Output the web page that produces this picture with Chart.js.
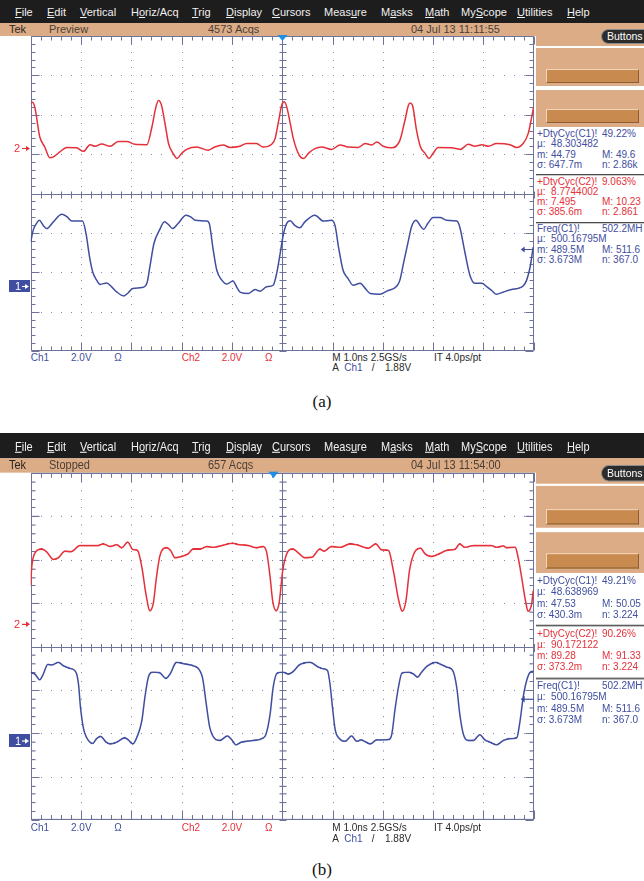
<!DOCTYPE html>
<html>
<head>
<meta charset="utf-8">
<script src="https://cdn.jsdelivr.net/npm/chart.js@4.4.1/dist/chart.umd.min.js"></script>
<style>
html,body{margin:0;padding:0;}
body{width:644px;height:881px;overflow:hidden;background:#fff;position:relative;font-family:"Liberation Sans",Arial,Helvetica,sans-serif;}
.panel{position:absolute;left:0;width:644px;height:380px;transform-origin:0 0;overflow:hidden;}
.menubar{position:absolute;left:0;top:0;width:644px;height:23px;background:#1d1d1d;}
.mi{position:absolute;top:6px;font-size:11px;line-height:13px;color:#f0f0f0;white-space:pre;}
.status{position:absolute;left:0;top:23px;width:644px;height:13px;background:#dcac87;}
.sideTan{position:absolute;left:536px;top:23px;width:108px;height:23px;background:#dcac87;}
.st{position:absolute;top:23px;font-size:11px;line-height:13px;color:#3b3129;white-space:pre;}
.pill{position:absolute;left:601px;top:29px;width:52px;height:15px;border-radius:8px;background:#2c2c2c;border:1px solid #8c8c8c;color:#fff;font-size:10.5px;line-height:13px;padding-left:5px;box-sizing:border-box;}
.box{position:absolute;left:536px;width:108px;background:#dcac87;}
.inner{position:absolute;left:10px;width:93px;height:14px;background:#c98a50;border-top:1px solid #f3d6b8;border-left:1px solid #f3d6b8;border-bottom:1px solid #8f5f33;border-right:1px solid #8f5f33;box-sizing:border-box;}
.tx{position:absolute;font-size:10px;line-height:12px;white-space:pre;}
.sep{position:absolute;left:536px;width:108px;height:1px;background:#4a4a4a;border-bottom:1px solid #c9c9c9;}
.cap{position:absolute;left:0;width:644px;text-align:center;font-family:"Liberation Serif","Times New Roman",serif;font-size:17px;line-height:20px;color:#111;}
canvas{position:absolute;left:0;top:30px;}
</style>
</head>
<body>
<script>
// ---------------- data (time in ns, amplitude in screen divisions) ----------------
const aCh2Trace = [[-5.00,2.30],[-4.97,2.32],[-4.92,2.20],[-4.82,1.44],[-4.72,1.18],[-4.62,0.91],[-4.55,0.93],[-4.42,1.06],[-4.28,1.17],[-4.09,1.16],[-3.95,1.07],[-3.82,1.24],[-3.72,1.20],[-3.59,1.26],[-3.42,1.20],[-3.26,1.32],[-3.09,1.32],[-2.93,1.25],[-2.69,1.24],[-2.59,1.69],[-2.51,2.20],[-2.46,2.36],[-2.40,2.24],[-2.33,1.78],[-2.26,1.27],[-2.17,1.02],[-2.09,0.89],[-2.00,1.02],[-1.90,1.12],[-1.70,1.18],[-1.47,1.10],[-1.34,1.18],[-1.17,1.23],[-1.04,1.17],[-0.84,1.20],[-0.71,1.27],[-0.51,1.27],[-0.38,1.18],[-0.21,1.25],[-0.14,1.40],[-0.08,1.78],[-0.01,2.24],[0.04,2.33],[0.09,2.20],[0.16,1.78],[0.22,1.40],[0.34,0.97],[0.43,0.89],[0.52,1.02],[0.65,1.14],[0.79,1.18],[0.98,1.12],[1.15,1.23],[1.31,1.18],[1.51,1.17],[1.65,1.27],[1.78,1.23],[1.88,1.31],[2.01,1.20],[2.18,1.16],[2.34,1.35],[2.44,1.86],[2.51,2.24],[2.54,2.30],[2.59,2.24],[2.67,1.61],[2.75,1.18],[2.84,1.02],[2.92,0.89],[3.00,1.02],[3.10,1.17],[3.37,1.16],[3.54,1.12],[3.70,1.25],[3.83,1.20],[3.97,1.24],[4.10,1.20],[4.26,1.27],[4.53,1.24],[4.66,1.17],[4.79,1.27],[4.89,1.52],[4.96,1.94],[5.00,2.20]];

const aCh1Trace = [[-5.00,-1.23],[-4.95,-0.93],[-4.88,-0.75],[-4.83,-0.68],[-4.75,-0.81],[-4.68,-0.89],[-4.55,-0.72],[-4.38,-0.53],[-4.28,-0.59],[-4.18,-0.70],[-4.05,-0.70],[-3.97,-0.70],[-3.90,-1.02],[-3.83,-1.61],[-3.77,-1.98],[-3.69,-2.20],[-3.62,-2.31],[-3.49,-2.27],[-3.39,-2.37],[-3.29,-2.50],[-3.15,-2.60],[-3.06,-2.52],[-2.97,-2.41],[-2.79,-2.39],[-2.69,-2.28],[-2.63,-1.86],[-2.55,-1.27],[-2.44,-0.93],[-2.34,-0.72],[-2.26,-0.79],[-2.18,-0.89],[-2.07,-0.76],[-1.91,-0.55],[-1.80,-0.61],[-1.73,-0.68],[-1.50,-0.70],[-1.45,-0.76],[-1.38,-1.36],[-1.30,-1.95],[-1.20,-2.20],[-1.10,-2.30],[-0.98,-2.22],[-0.89,-2.41],[-0.83,-2.51],[-0.67,-2.54],[-0.54,-2.44],[-0.44,-2.48],[-0.31,-2.37],[-0.18,-2.33],[-0.11,-2.03],[-0.04,-1.52],[0.02,-1.06],[0.09,-0.76],[0.16,-0.69],[0.25,-0.81],[0.35,-0.87],[0.45,-0.72],[0.65,-0.55],[0.82,-0.70],[0.98,-0.68],[1.05,-0.81],[1.12,-1.36],[1.21,-1.95],[1.31,-2.16],[1.41,-2.33],[1.55,-2.28],[1.65,-2.41],[1.75,-2.54],[1.94,-2.56],[2.08,-2.48],[2.28,-2.35],[2.34,-2.20],[2.41,-1.78],[2.51,-1.19],[2.57,-0.85],[2.66,-0.68],[2.74,-0.81],[2.81,-0.91],[2.90,-0.75],[3.00,-0.61],[3.14,-0.61],[3.27,-0.68],[3.47,-0.70],[3.53,-0.85],[3.63,-1.48],[3.73,-2.07],[3.83,-2.28],[3.97,-2.28],[4.07,-2.37],[4.17,-2.47],[4.26,-2.56],[4.40,-2.50],[4.56,-2.44],[4.69,-2.41],[4.79,-2.35],[4.86,-2.20],[4.93,-1.86],[4.99,-1.36]];

const bCh2Trace = [[-5.00,1.40],[-4.98,1.82],[-4.95,2.04],[-4.89,2.19],[-4.78,2.24],[-4.68,2.17],[-4.55,2.00],[-4.45,2.04],[-4.32,2.19],[-4.20,2.18],[-4.02,2.32],[-3.66,2.32],[-3.56,2.36],[-3.42,2.30],[-3.29,2.34],[-3.19,2.27],[-3.07,2.40],[-2.97,2.23],[-2.88,2.21],[-2.79,1.82],[-2.71,1.21],[-2.63,0.82],[-2.56,1.01],[-2.50,1.59],[-2.43,2.09],[-2.30,2.27],[-2.22,2.21],[-2.13,2.04],[-2.00,2.07],[-1.87,2.13],[-1.77,2.24],[-1.63,2.24],[-1.50,2.30],[-1.37,2.28],[-1.20,2.32],[-1.00,2.37],[-0.84,2.34],[-0.67,2.32],[-0.51,2.27],[-0.38,2.30],[-0.31,2.17],[-0.24,1.59],[-0.19,1.05],[-0.12,0.82],[-0.06,1.01],[0.01,1.74],[0.09,2.13],[0.21,2.24],[0.34,2.13],[0.45,2.04],[0.59,2.05],[0.75,2.24],[0.83,2.19],[0.98,2.30],[1.15,2.28],[1.35,2.36],[1.48,2.34],[1.71,2.26],[1.86,2.36],[1.98,2.22],[2.11,2.21],[2.21,1.74],[2.31,1.09],[2.39,0.81],[2.46,1.05],[2.53,1.74],[2.61,2.11],[2.75,2.26],[2.84,2.13],[2.97,2.07],[3.14,2.14],[3.27,2.21],[3.44,2.24],[3.53,2.36],[3.63,2.28],[3.80,2.32],[4.16,2.32],[4.26,2.28],[4.40,2.31],[4.46,2.27],[4.63,2.28],[4.69,2.05],[4.76,1.59],[4.83,1.09],[4.89,0.81],[4.96,0.98],[4.99,1.28]];

const bCh1Trace = [[-5.00,-0.60],[-4.91,-0.65],[-4.82,-0.77],[-4.75,-0.64],[-4.66,-0.42],[-4.58,-0.43],[-4.45,-0.37],[-4.35,-0.45],[-4.22,-0.51],[-4.10,-0.60],[-4.05,-0.87],[-4.01,-1.41],[-3.95,-1.90],[-3.89,-2.10],[-3.77,-2.24],[-3.69,-2.13],[-3.61,-2.08],[-3.50,-2.21],[-3.42,-2.25],[-3.29,-2.21],[-3.13,-2.11],[-3.06,-2.16],[-2.97,-2.25],[-2.89,-2.10],[-2.79,-1.71],[-2.73,-1.18],[-2.66,-0.71],[-2.57,-0.60],[-2.44,-0.61],[-2.31,-0.74],[-2.23,-0.64],[-2.10,-0.37],[-1.93,-0.41],[-1.77,-0.45],[-1.65,-0.54],[-1.58,-0.75],[-1.51,-1.33],[-1.44,-1.87],[-1.34,-2.13],[-1.24,-2.17],[-1.09,-2.07],[-1.00,-2.16],[-0.92,-2.27],[-0.81,-2.21],[-0.57,-2.17],[-0.41,-2.13],[-0.32,-2.02],[-0.24,-1.56],[-0.18,-0.95],[-0.10,-0.62],[0.02,-0.60],[0.12,-0.64],[0.22,-0.58],[0.34,-0.43],[0.55,-0.37],[0.72,-0.48],[0.82,-0.52],[0.90,-0.56],[0.95,-0.87],[1.00,-1.41],[1.05,-1.90],[1.14,-2.13],[1.25,-2.19],[1.38,-2.07],[1.48,-2.19],[1.57,-2.16],[1.65,-2.20],[1.75,-2.25],[1.88,-2.16],[2.11,-2.15],[2.18,-2.02],[2.24,-1.48],[2.31,-0.95],[2.38,-0.62],[2.51,-0.60],[2.61,-0.64],[2.69,-0.71],[2.77,-0.60],[2.87,-0.47],[3.05,-0.37],[3.14,-0.41],[3.27,-0.48],[3.39,-0.56],[3.47,-0.95],[3.53,-1.56],[3.60,-2.02],[3.70,-2.17],[3.80,-2.17],[3.93,-2.04],[4.03,-2.16],[4.13,-2.21],[4.26,-2.27],[4.40,-2.17],[4.53,-2.13],[4.66,-2.11],[4.73,-1.71],[4.79,-1.18],[4.86,-0.79],[4.93,-0.60],[4.99,-0.58]];

// marker levels (divisions) and trigger position (ns)
const markerLevelsA = [1.16, -2.35, -1.42, 0.00];   // ch2 ground, ch1 ground, trigger level, trigger time
const markerLevelsB = [0.53, -2.16, -1.21, -0.19];

// ---------------- labels ----------------
const menuLabels = ['File','Edit','Vertical','Horiz/Acq','Trig','Display','Cursors','Measure','Masks','Math','MyScope','Utilities','Help'];
const menuMnemonic = [0,0,0,1,0,0,0,4,1,0,2,0,0];
const statusA = ['Tek','Preview','4573 Acqs','04 Jul 13 11:11:55'];
const statusB = ['Tek','Stopped','657 Acqs','04 Jul 13 11:54:00'];
const measA = [
  [['+DtyCyc(C1)!','49.22%'],['µ:  48.303482',''],['m: 44.79','M: 49.6'],['σ: 647.7m','n: 2.86k']],
  [['+DtyCyc(C2)!','9.063%'],['µ:  8.7744002',''],['m: 7.495','M: 10.23'],['σ: 385.6m','n: 2.861']],
  [['Freq(C1)!','502.2MH'],['µ:  500.16795M',''],['m: 489.5M','M: 511.6'],['σ: 3.673M','n: 367.0']]
];
const measB = [
  [['+DtyCyc(C1)!','49.21%'],['µ:  48.638969',''],['m: 47.53','M: 50.05'],['σ: 430.3m','n: 3.224']],
  [['+DtyCyc(C2)!','90.26%'],['µ:  90.172122',''],['m: 89.28','M: 91.33'],['σ: 373.2m','n: 3.224']],
  [['Freq(C1)!','502.2MH'],['µ:  500.16795M',''],['m: 489.5M','M: 511.6'],['σ: 3.673M','n: 367.0']]
];
const footerRow1 = ['Ch1','2.0V','Ω','Ch2','2.0V','Ω','M 1.0ns 2.5GS/s','IT 4.0ps/pt'];
const footerRow2 = ['A','Ch1','/','1.88V'];
const captions = ['(a)','(b)'];

// ---------------- layout / style ----------------
const BLUE = '#3f4ea0', RED = '#e5303a', DARK = '#2a2a2a';
const menuX = [15,47,80,131,192,226,272,324,381,425,461,517,567];
const statusX = [9,49,208,411];
const measColors = [BLUE, RED, BLUE];
const footer1X = [30.7,71,114.3,181.7,221.7,265,332.3,434];
const footer1C = [BLUE,BLUE,BLUE,RED,RED,RED,DARK,DARK];
const footer2X = [332.3,344.3,371.7,385];
const footer2C = [DARK,BLUE,DARK,DARK];

const graticulePlugin = {
  id: 'graticule',
  beforeDatasetsDraw(chart) {
    const {ctx, chartArea: a, scales: {x, y}} = chart;
    const L = Math.round(a.left) + 0.5, R = Math.round(a.right) - 0.5;
    const T = Math.round(a.top) + 0.5, B = Math.round(a.bottom) - 0.5;
    ctx.save();
    ctx.fillStyle = '#858bad';
    for (let i = -4; i <= 4; i++) {
      if (i === 0) continue;
      const px = Math.round(x.getPixelForValue(i));
      for (let j = -19; j <= 19; j++) ctx.fillRect(px, Math.round(y.getPixelForValue(j / 5)), 1, 1);
    }
    for (let j = -3; j <= 3; j++) {
      if (j === 0) continue;
      const py = Math.round(y.getPixelForValue(j));
      for (let i = -24; i <= 24; i++) ctx.fillRect(Math.round(x.getPixelForValue(i / 5)), py, 1, 1);
    }
    ctx.strokeStyle = '#6d7399';
    ctx.lineWidth = 1;
    ctx.beginPath();
    ctx.rect(L, T, R - L, B - T);
    const cx = Math.round(x.getPixelForValue(0)) + 0.5, cy = Math.round(y.getPixelForValue(0)) + 0.5;
    ctx.moveTo(cx, T); ctx.lineTo(cx, B);
    ctx.moveTo(L, cy); ctx.lineTo(R, cy);
    for (let i = -25; i <= 25; i++) {
      const px = Math.round(x.getPixelForValue(i / 5)) + 0.5;
      const len = (i % 5 === 0) ? 8 : 4;
      ctx.moveTo(px, T); ctx.lineTo(px, T + len);
      ctx.moveTo(px, B); ctx.lineTo(px, B - len);
      ctx.moveTo(px, cy - 3); ctx.lineTo(px, cy + 4);
    }
    for (let j = -20; j <= 20; j++) {
      const py = Math.round(y.getPixelForValue(j / 5)) + 0.5;
      const len = (j % 5 === 0) ? 8 : 4;
      ctx.moveTo(L, py); ctx.lineTo(L + len, py);
      ctx.moveTo(R, py); ctx.lineTo(R - len, py);
      ctx.moveTo(cx - 3, py); ctx.lineTo(cx + 4, py);
    }
    ctx.stroke();
    ctx.restore();
  }
};

const markerPlugin = {
  id: 'markers',
  afterDatasetsDraw(chart, args, o) {
    const {ctx, chartArea: a, scales: {x, y}} = chart;
    const lv = o.levels;
    ctx.save();
    ctx.lineWidth = 1;
    ctx.font = '11px "Liberation Sans", Arial, sans-serif';
    ctx.textBaseline = 'middle';
    // channel 2 ground marker
    let py = Math.round(y.getPixelForValue(lv[0])) + 0.5;
    ctx.fillStyle = ctx.strokeStyle = RED;
    ctx.fillText('2', 14, py + 0.5);
    ctx.beginPath(); ctx.moveTo(22, py); ctx.lineTo(27, py); ctx.stroke();
    ctx.beginPath(); ctx.moveTo(26, py - 2.5); ctx.lineTo(30, py); ctx.lineTo(26, py + 2.5); ctx.closePath(); ctx.fill();
    // channel 1 ground marker
    py = Math.round(y.getPixelForValue(lv[1])) + 0.5;
    ctx.fillStyle = BLUE;
    ctx.fillRect(9, py - 6.5, 21, 12);
    ctx.fillStyle = ctx.strokeStyle = '#ffffff';
    ctx.fillText('1', 15, py + 0.5);
    ctx.beginPath(); ctx.moveTo(22, py); ctx.lineTo(26, py); ctx.stroke();
    ctx.beginPath(); ctx.moveTo(25, py - 2.5); ctx.lineTo(29, py); ctx.lineTo(25, py + 2.5); ctx.closePath(); ctx.fill();
    // trigger level marker on the right
    py = Math.round(y.getPixelForValue(lv[2])) + 0.5;
    ctx.fillStyle = ctx.strokeStyle = BLUE;
    ctx.beginPath(); ctx.moveTo(a.right - 10, py); ctx.lineTo(a.right, py); ctx.stroke();
    ctx.beginPath(); ctx.moveTo(a.right - 9, py - 3); ctx.lineTo(a.right - 13, py); ctx.lineTo(a.right - 9, py + 3); ctx.closePath(); ctx.fill();
    // trigger position marker on top
    const px = Math.round(x.getPixelForValue(lv[3])) + 0.5;
    ctx.fillStyle = '#1f8fe6';
    ctx.beginPath(); ctx.moveTo(px - 5, a.top - 1); ctx.lineTo(px + 5, a.top - 1); ctx.lineTo(px, a.top + 5); ctx.closePath(); ctx.fill();
    ctx.restore();
  }
};

function makeText(parent, x, yc, text, color, cls) {
  const d = document.createElement('div');
  d.className = cls || 'tx';
  d.style.left = x + 'px';
  if (yc !== null) d.style.top = (yc - 6) + 'px';
  d.style.color = color;
  d.textContent = text;
  parent.appendChild(d);
  return d;
}

function buildPanel(top, k, status, meas, ch1, ch2, levels, dpr) {
  const p = document.createElement('div');
  p.className = 'panel';
  p.style.top = top + 'px';
  if (k !== 1) p.style.transform = 'scaleY(' + k + ')';
  document.body.appendChild(p);

  const mb = document.createElement('div'); mb.className = 'menubar'; p.appendChild(mb);
  menuLabels.forEach((lab, i) => {
    const s = document.createElement('div'); s.className = 'mi'; s.style.left = menuX[i] + 'px';
    const m = menuMnemonic[i];
    s.innerHTML = lab.slice(0, m) + '<u>' + lab[m] + '</u>' + lab.slice(m + 1);
    mb.appendChild(s);
  });
  const st = document.createElement('div'); st.className = 'status'; p.appendChild(st);
  const side = document.createElement('div'); side.className = 'sideTan'; p.appendChild(side);
  status.forEach((t, i) => {
    const s = document.createElement('div'); s.className = 'st'; s.style.left = statusX[i] + 'px';
    s.style.color = i === 0 ? '#2a2520' : '#4a3f35';
    s.textContent = t; p.appendChild(s);
  });
  const pill = document.createElement('div'); pill.className = 'pill'; pill.textContent = 'Buttons'; p.appendChild(pill);
  [[48, 38, 21], [90, 37, 19]].forEach(([bt, bh, it]) => {
    const b = document.createElement('div'); b.className = 'box'; b.style.top = bt + 'px'; b.style.height = bh + 'px';
    const inn = document.createElement('div'); inn.className = 'inner'; inn.style.top = it + 'px';
    b.appendChild(inn); p.appendChild(b);
  });
  meas.forEach((grp, g) => {
    const y0 = 134.3 + g * 47.5;
    grp.forEach((row, r) => {
      makeText(p, 537, y0 + r * 10.1, row[0], measColors[g]);
      if (row[1]) makeText(p, 602, y0 + r * 10.1, row[1], measColors[g]);
    });
  });
  [174, 221.5].forEach(sy => {
    const s = document.createElement('div'); s.className = 'sep'; s.style.top = sy + 'px'; p.appendChild(s);
  });
  footerRow1.forEach((t, i) => makeText(p, footer1X[i], 358.3, t, footer1C[i]));
  footerRow2.forEach((t, i) => makeText(p, footer2X[i], 368.3, t, footer2C[i]));

  const cv = document.createElement('canvas');
  cv.width = 540; cv.height = 330;
  p.appendChild(cv);
  new Chart(cv, {
    type: 'line',
    data: {
      datasets: [
        {label: 'Ch2', data: ch2.map(q => ({x: q[0], y: q[1]})), borderColor: RED, borderWidth: 1.5, pointRadius: 0, cubicInterpolationMode: 'monotone', fill: false},
        {label: 'Ch1', data: ch1.map(q => ({x: q[0], y: q[1]})), borderColor: BLUE, borderWidth: 1.5, pointRadius: 0, cubicInterpolationMode: 'monotone', fill: false}
      ]
    },
    options: {
      responsive: false,
      animation: false,
      devicePixelRatio: dpr,
      events: [],
      layout: {padding: {left: 30.7, right: 6.3, top: 6, bottom: 9}},
      scales: {
        x: {type: 'linear', min: -5, max: 5, display: false},
        y: {type: 'linear', min: -4, max: 4, display: false}
      },
      plugins: {legend: {display: false}, tooltip: {enabled: false}, markers: {levels: levels}}
    },
    plugins: [graticulePlugin, markerPlugin]
  });
}

buildPanel(0, 1, statusA, measA, aCh1Trace, aCh2Trace, markerLevelsA, 1);
buildPanel(432.5, 1.102, statusB, measB, bCh1Trace, bCh2Trace, markerLevelsB, 2);

[[captions[0], 392], [captions[1], 860]].forEach(([t, top]) => {
  const c = document.createElement('div'); c.className = 'cap'; c.style.top = top + 'px'; c.textContent = t;
  document.body.appendChild(c);
});
</script>
</body>
</html>
